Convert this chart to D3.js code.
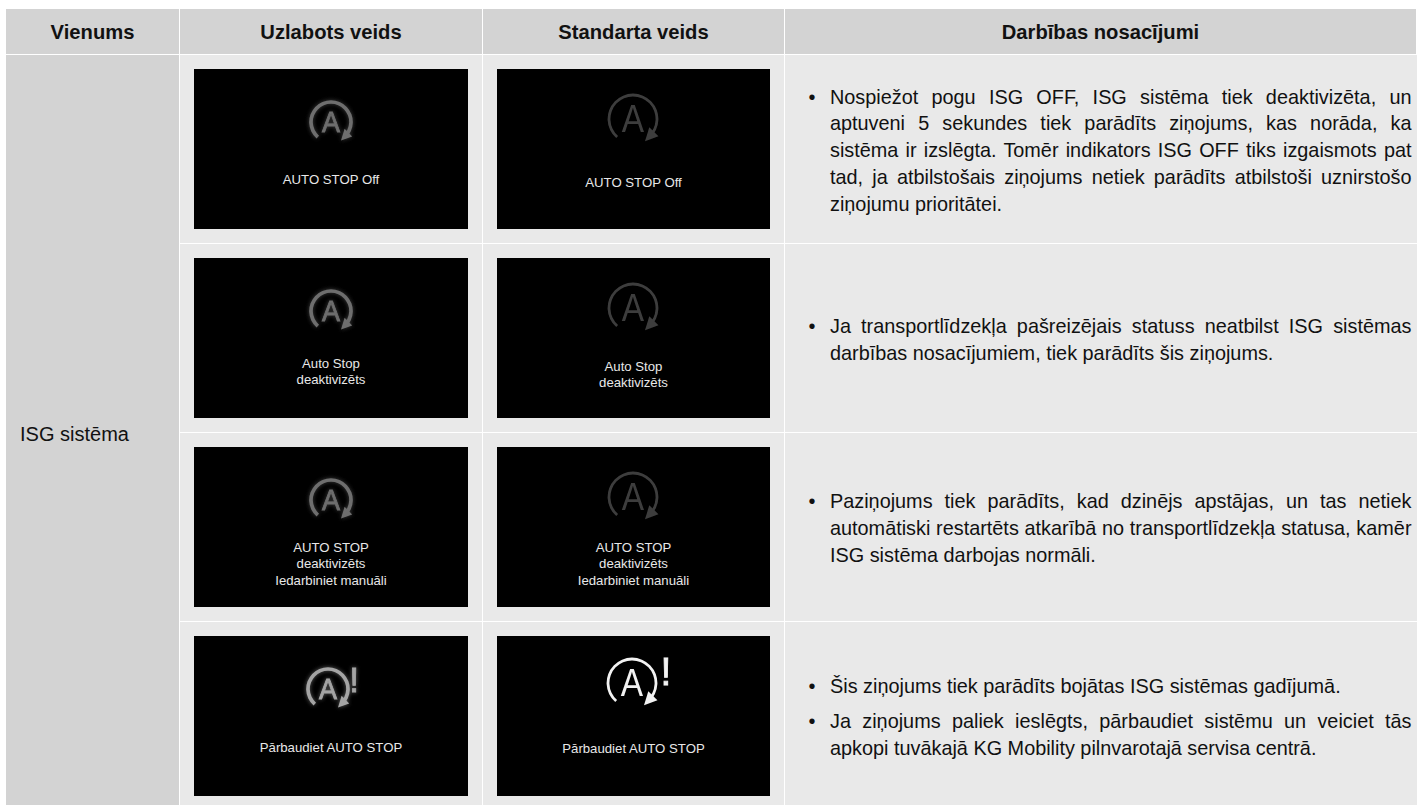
<!DOCTYPE html>
<html><head><meta charset="utf-8">
<script src="https://cdnjs.cloudflare.com/ajax/libs/d3/7.8.5/d3.min.js"></script>
<style>html,body{margin:0;padding:0;background:#fff;overflow:hidden}svg{display:block}text{font-family:"Liberation Sans",Arial,sans-serif}</style>
</head><body><svg id="c" width="1417" height="805"></svg>
<script>
const headers = ["Vienums","Uzlabots veids","Standarta veids","Darbības nosacījumi"];
const unitLabel = "ISG sistēma";
const rowIds = ["off","deactivated","manual","check"];
const captions = [
 ["AUTO STOP Off"],
 ["Auto Stop","deaktivizēts"],
 ["AUTO STOP","deaktivizēts","Iedarbiniet manuāli"],
 ["Pārbaudiet AUTO STOP"]
];
const descriptions = [
 [["Nospiežot pogu ISG OFF, ISG sistēma tiek deaktivizēta, un","aptuveni 5 sekundes tiek parādīts ziņojums, kas norāda, ka","sistēma ir izslēgta. Tomēr indikators ISG OFF tiks izgaismots pat","tad, ja atbilstošais ziņojums netiek parādīts atbilstoši uznirstošo","ziņojumu prioritātei."]],
 [["Ja transportlīdzekļa pašreizējais statuss neatbilst ISG sistēmas","darbības nosacījumiem, tiek parādīts šis ziņojums."]],
 [["Paziņojums tiek parādīts, kad dzinējs apstājas, un tas netiek","automātiski restartēts atkarībā no transportlīdzekļa statusa, kamēr","ISG sistēma darbojas normāli."]],
 [["Šis ziņojums tiek parādīts bojātas ISG sistēmas gadījumā."],["Ja ziņojums paliek ieslēgts, pārbaudiet sistēmu un veiciet tās","apkopi tuvākajā KG Mobility pilnvarotajā servisa centrā."]]
];
const svg = d3.select("#c");
const defs = svg.append("defs");
const glow = defs.append("filter").attr("id","glow").attr("x","-40%").attr("y","-40%").attr("width","180%").attr("height","180%");
glow.append("feGaussianBlur").attr("in","SourceGraphic").attr("stdDeviation",2).attr("result","b");
const cmt = glow.append("feComponentTransfer").attr("in","b").attr("result","b2");
cmt.append("feFuncA").attr("type","linear").attr("slope",0.6);
glow.append("feGaussianBlur").attr("in","SourceGraphic").attr("stdDeviation",0.6).attr("result","s");
const m = glow.append("feMerge");
m.append("feMergeNode").attr("in","b2");
m.append("feMergeNode").attr("in","s");
defs.append("filter").attr("id","soft").append("feGaussianBlur").attr("stdDeviation",0.45);

const colEdges = [6,180,483,785,1417];
const y = d3.scaleBand().domain(rowIds).range([55,811]);
const headTop = 9, headBottom = 54;
const cols = d3.range(4);

svg.selectAll("rect.h").data(cols).join("rect").attr("class","h")
  .attr("x",i=>colEdges[i]).attr("y",headTop).attr("width",i=>colEdges[i+1]-colEdges[i]-1).attr("height",headBottom-headTop).attr("fill","#d3d3d3");
svg.selectAll("text.h").data(headers).join("text").attr("class","h")
  .attr("x",(d,i)=>(colEdges[i]+colEdges[i+1]-1)/2).attr("y",39)
  .attr("text-anchor","middle").attr("font-size",20.2).attr("font-weight","bold").attr("fill","#111").text(d=>d);

svg.append("rect").attr("x",colEdges[0]).attr("y",55).attr("width",colEdges[1]-colEdges[0]-1).attr("height",750).attr("fill","#d3d3d3");
svg.append("text").attr("x",20).attr("y",441).attr("font-size",20).attr("fill","#111").text(unitLabel);

const rows = svg.selectAll("g.row").data(rowIds).join("g").attr("class","row").attr("transform",d=>`translate(0,${y(d)})`);
[1,2,3].forEach(c=>{
  rows.append("rect").attr("x",colEdges[c]).attr("y",0).attr("width",colEdges[c+1]-colEdges[c]-(c<3?1:0)).attr("height",y.step()-1).attr("fill","#e9e9e9");
});

const imgs = [{x:194,w:274},{x:497,w:273}];
const captionBase = [[129,132],[124,127],[119,119],[129.5,131]];
const iconPos = [[[331,67],[633,64]],[[331,67],[633,64]],[[331,67],[633,64]],[[328,67],[632,61]]];
const arcGen = d3.arc();
function icon(g, o){
  const {r,color,filter,bang,aSize,sw,aStroke,aScale,bangX,bangY,bangSize} = o;
  const ig = g.append("g").attr("filter",filter);
  ig.append("path").attr("fill",color)
    .attr("d",arcGen({innerRadius:r-sw/2,outerRadius:r+sw/2,startAngle:-2.42,endAngle:2.42}));
  ig.append("path").attr("fill",color)
    .attr("d",d3.line()([[0.50*r,0.93*r],[1.06*r,0.72*r],[0.68*r,0.34*r]])+"Z");
  ig.append("text").attr("transform",`scale(${aScale},1)`).attr("y",aSize*0.34).attr("text-anchor","middle")
    .attr("font-size",aSize).attr("fill",color).attr("stroke",color).attr("stroke-width",aStroke).text("A");
  if(bang) ig.append("text").attr("x",bangX).attr("y",bangY).attr("text-anchor","middle")
    .attr("font-size",bangSize).attr("fill",color).attr("stroke",color).attr("stroke-width",0.8).text("!");
}
rowIds.forEach((id,ri)=>{
  const g = rows.filter(d=>d===id);
  const last = ri===3;
  imgs.forEach((im,ci)=>{
    g.append("rect").attr("x",im.x).attr("y",14).attr("width",im.w).attr("height",160).attr("fill","#000");
    const ig = g.append("g").attr("transform",`translate(${iconPos[ri][ci]})`);
    if(ci===0) icon(ig,{r:20,color:last?"#a4a4a4":"#6e6e6e",filter:"url(#glow)",bang:last,aSize:30,sw:3.7,aStroke:0.9,aScale:0.9,bangX:26,bangY:3,bangSize:35});
    else icon(ig,{r:24,color:last?"#f2f2f2":"#3e3e3e",filter:"url(#soft)",bang:last,aSize:38,sw:2.8,aStroke:0,aScale:0.88,bangX:34,bangY:2,bangSize:39});
    g.selectAll(null).data(captions[ri]).join("text").attr("x",im.x+im.w/2).attr("y",(d,i)=>captionBase[ri][ci]+i*16.3)
      .attr("text-anchor","middle").attr("font-size",13.2).attr("fill","#e8e8e8").text(d=>d);
  });
  const paras = descriptions[ri];
  const lines = [];
  paras.forEach(p=>p.forEach((t,i)=>lines.push({t,first:i===0,last:i===p.length-1})));
  const lh = 26.8, gap = 8, fs = 19.85;
  const total = lines.length*lh+gap*(paras.length-1);
  let yy = (y.step()-1)/2 - total/2 + 21.5;
  const left = 830, right = 1411.5;
  lines.forEach(l=>{
    if(l.first) g.append("text").attr("x",812).attr("y",yy).attr("text-anchor","middle").attr("font-size",fs).attr("fill","#111").text("•");
    const t = g.append("text").attr("x",left).attr("y",yy).attr("font-size",fs).attr("fill","#111").text(l.t);
    const w = t.node().getComputedTextLength();
    const n = l.t.split(" ").length-1;
    if(!l.last && n>0) t.attr("word-spacing",(right-left-w)/n);
    yy += lh;
    if(l.last) yy += gap;
  });
});
</script></body></html>
